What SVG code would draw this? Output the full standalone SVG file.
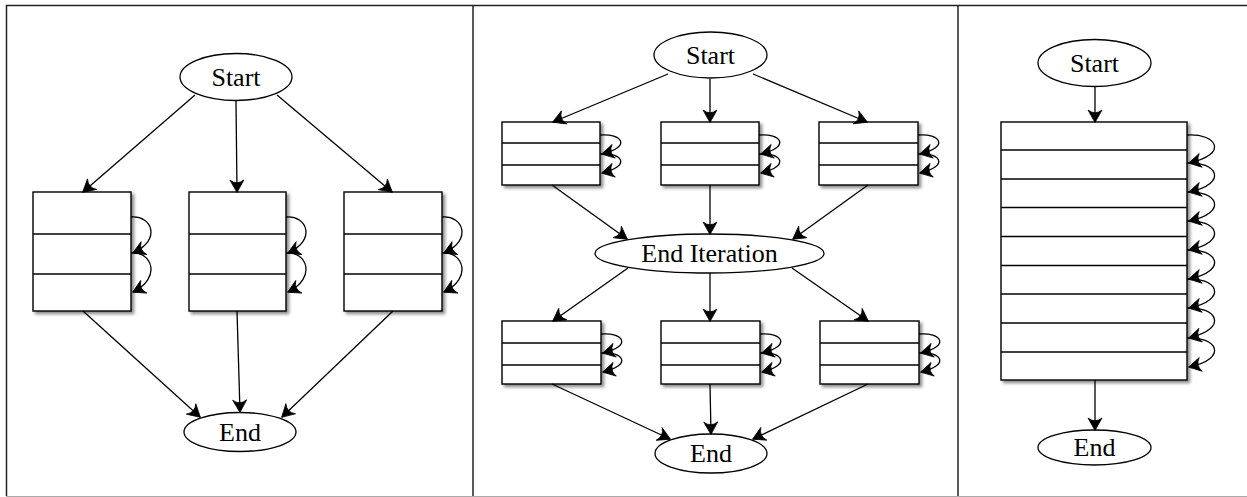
<svg xmlns="http://www.w3.org/2000/svg" width="1247" height="497" viewBox="0 0 1247 497">
<style>
.frame{stroke:#222;stroke-width:1.5;fill:none}
.node ellipse{fill:#fff;stroke:#000;stroke-width:1.3}
.node text{font-family:"Liberation Serif","Times New Roman",serif;font-size:26px;fill:#000;text-anchor:middle}
.box rect{fill:#fff;stroke:#000;stroke-width:1.4;filter:url(#sh)}
.box line{stroke:#000;stroke-width:1.4}
.edge{fill:none;stroke:#000;stroke-width:1.3;marker-end:url(#ah)}
</style>
<defs>
<filter id="sh" x="-10%" y="-10%" width="130%" height="130%">
<feDropShadow dx="2.5" dy="2.5" stdDeviation="1.8" flood-color="#000" flood-opacity="0.45"/>
</filter>
<marker id="ah" markerUnits="userSpaceOnUse" viewBox="-14 -8 15 16" markerWidth="15" markerHeight="16" refX="0" refY="0" orient="auto">
<path d="M0.5,0 Q-4,-2.5 -12,-7 Q-6.5,0 -12,7 Q-4,2.5 0.5,0 Z" fill="#000" stroke="#000" stroke-width="0.8" stroke-linejoin="round"/>
</marker>
</defs>
<rect width="1247" height="497" fill="#fff"/>
<g id="frame">
<line class="frame" x1="6" y1="5.5" x2="1247" y2="5.5"/>
<line class="frame" x1="6.5" y1="5" x2="6.5" y2="496"/>
<line class="frame" x1="473" y1="5" x2="473" y2="496"/>
<line class="frame" x1="958" y1="5" x2="958" y2="496"/>
<line x1="6" y1="496.5" x2="1247" y2="496.5" stroke="#aaa" stroke-width="1"/>
</g>

<!-- Panel 1 -->
<g id="p1-start" class="node"><ellipse cx="236" cy="77" rx="56" ry="23.5"/><text x="236" y="85.5">Start</text></g>
<g id="p1-box1" class="box"><rect x="33" y="192" width="98" height="119"/><line x1="33" y1="234" x2="131" y2="234"/><line x1="33" y1="274" x2="131" y2="274"/></g>
<g id="p1-box2" class="box"><rect x="189" y="192" width="97" height="119"/><line x1="189" y1="234" x2="286" y2="234"/><line x1="189" y1="274" x2="286" y2="274"/></g>
<g id="p1-box3" class="box"><rect x="344" y="192" width="98" height="119"/><line x1="344" y1="234" x2="442" y2="234"/><line x1="344" y1="274" x2="442" y2="274"/></g>
<g id="p1-end" class="node"><ellipse cx="240" cy="432" rx="56" ry="19.5"/><text x="240" y="440.5">End</text></g>

<!-- Panel 2 -->
<g id="p2-start" class="node"><ellipse cx="710.5" cy="55" rx="56.5" ry="23"/><text x="710.5" y="63.5">Start</text></g>
<g id="p2-box1" class="box"><rect x="502" y="122" width="98" height="63"/><line x1="502" y1="143" x2="600" y2="143"/><line x1="502" y1="165" x2="600" y2="165"/></g>
<g id="p2-box2" class="box"><rect x="661" y="122" width="98" height="63"/><line x1="661" y1="143" x2="759" y2="143"/><line x1="661" y1="165" x2="759" y2="165"/></g>
<g id="p2-box3" class="box"><rect x="819" y="122" width="99" height="63"/><line x1="819" y1="143" x2="918" y2="143"/><line x1="819" y1="165" x2="918" y2="165"/></g>
<g id="p2-enditer" class="node"><ellipse cx="709.5" cy="253.5" rx="114.5" ry="19.5"/><text x="709.5" y="262">End Iteration</text></g>
<g id="p2-box4" class="box"><rect x="502" y="321" width="99" height="63"/><line x1="502" y1="343" x2="601" y2="343"/><line x1="502" y1="365" x2="601" y2="365"/></g>
<g id="p2-box5" class="box"><rect x="661" y="321" width="99" height="63"/><line x1="661" y1="343" x2="760" y2="343"/><line x1="661" y1="365" x2="760" y2="365"/></g>
<g id="p2-box6" class="box"><rect x="820" y="321" width="99" height="63"/><line x1="820" y1="343" x2="919" y2="343"/><line x1="820" y1="365" x2="919" y2="365"/></g>
<g id="p2-end" class="node"><ellipse cx="711" cy="453.5" rx="56" ry="19.5"/><text x="711" y="462">End</text></g>

<!-- Panel 3 -->
<g id="p3-start" class="node"><ellipse cx="1094.5" cy="63" rx="56.5" ry="23.5"/><text x="1094.5" y="71.5">Start</text></g>
<g id="p3-box" class="box"><rect x="1001" y="122" width="186" height="258"/>
<line x1="1001" y1="150" x2="1187" y2="150"/><line x1="1001" y1="179" x2="1187" y2="179"/><line x1="1001" y1="207.5" x2="1187" y2="207.5"/><line x1="1001" y1="236.5" x2="1187" y2="236.5"/><line x1="1001" y1="265.5" x2="1187" y2="265.5"/><line x1="1001" y1="294" x2="1187" y2="294"/><line x1="1001" y1="323" x2="1187" y2="323"/><line x1="1001" y1="352" x2="1187" y2="352"/></g>
<g id="p3-end" class="node"><ellipse cx="1094.5" cy="447.5" rx="56.5" ry="17.5"/><text x="1094.5" y="456">End</text></g>

<g id="connectors">
<!-- panel 1 -->
<path class="edge" d="M195,95 L83,192"/>
<path class="edge" d="M236,101 L237,192"/>
<path class="edge" d="M277,95 L392,192"/>
<path class="edge" d="M83,311 L200,417"/>
<path class="edge" d="M237,311 L240,412"/>
<path class="edge" d="M393,311 L282,417"/>
<path class="edge" d="M131,217 c21,-2 31,23 2,36"/>
<path class="edge" d="M131,253 c21,-2 31,25 2,39"/>
<path class="edge" d="M286,217 c21,-2 31,23 2,36"/>
<path class="edge" d="M286,253 c21,-2 31,25 2,39"/>
<path class="edge" d="M442,217 c21,-2 31,23 2,36"/>
<path class="edge" d="M442,253 c21,-2 31,25 2,39"/>
<!-- panel 2 -->
<path class="edge" d="M668,74 L553,122"/>
<path class="edge" d="M710,79 L710,122"/>
<path class="edge" d="M753,74 L867,122"/>
<path class="edge" d="M552,185 L627,239"/>
<path class="edge" d="M710,185 L710,234"/>
<path class="edge" d="M868,185 L793,239"/>
<path class="edge" d="M628,268 L553,321"/>
<path class="edge" d="M710,273 L710,321"/>
<path class="edge" d="M792,268 L868,321"/>
<path class="edge" d="M552,384 L670,439"/>
<path class="edge" d="M710,384 L711,434"/>
<path class="edge" d="M868,384 L753,439"/>
<path class="edge" d="M600,135 c22,-2 32,12 2,19"/>
<path class="edge" d="M600,154 c22,-2 32,12 2,19"/>
<path class="edge" d="M759,135 c22,-2 32,12 2,19"/>
<path class="edge" d="M759,154 c22,-2 32,12 2,19"/>
<path class="edge" d="M918,135 c22,-2 32,12 2,19"/>
<path class="edge" d="M918,154 c22,-2 32,12 2,19"/>
<path class="edge" d="M601,334 c22,-2 32,12 2,19"/>
<path class="edge" d="M601,353 c22,-2 32,12 2,19"/>
<path class="edge" d="M760,334 c22,-2 32,12 2,19"/>
<path class="edge" d="M760,353 c22,-2 32,12 2,19"/>
<path class="edge" d="M919,334 c22,-2 32,12 2,19"/>
<path class="edge" d="M919,353 c22,-2 32,12 2,19"/>
<!-- panel 3 -->
<path class="edge" d="M1095,87 L1095,122"/>
<path class="edge" d="M1095,380 L1095,430"/>
<path class="edge" d="M1187,135 c29,-2 43,19 2,28"/>
<path class="edge" d="M1187,163 c29,-2 43,20 2,29"/>
<path class="edge" d="M1187,192 c29,-2 43,20 2,29"/>
<path class="edge" d="M1187,221 c29,-2 43,20 2,29"/>
<path class="edge" d="M1187,250 c29,-2 43,20 2,29"/>
<path class="edge" d="M1187,279 c29,-2 43,20 2,29"/>
<path class="edge" d="M1187,308 c29,-2 43,20 2,30"/>
<path class="edge" d="M1187,338 c29,-2 43,20 2,29"/>
</g>
</svg>
